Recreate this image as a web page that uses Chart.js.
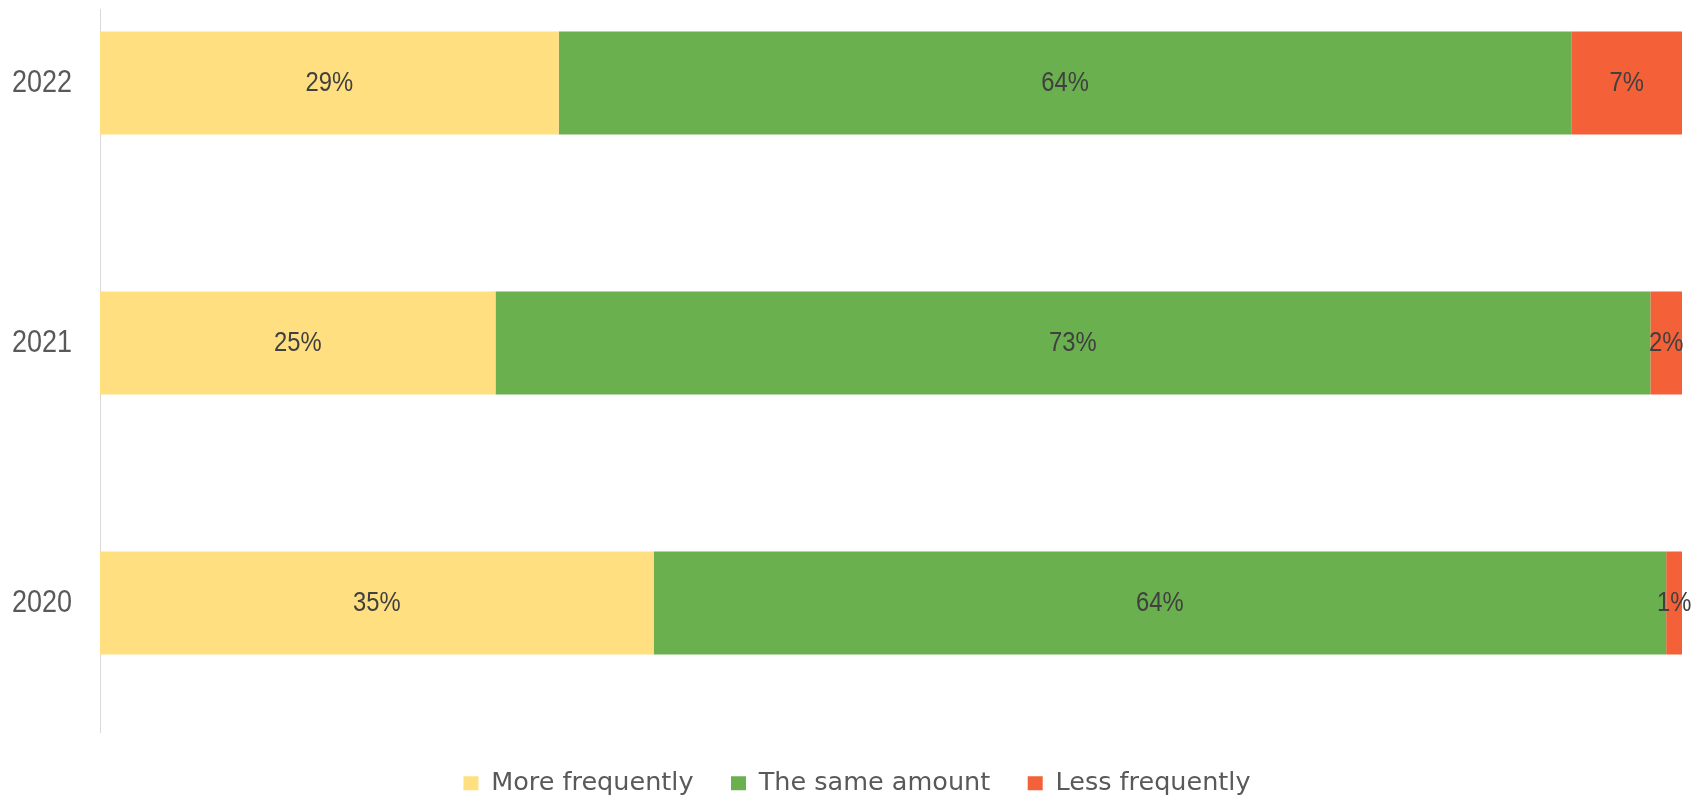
<!DOCTYPE html>
<html>
<head>
<meta charset="utf-8">
<script src="https://cdn.jsdelivr.net/npm/chart.js@4"></script>
<style>
  html, body { margin: 0; padding: 0; background: #fff; overflow: hidden; width: 1692px; height: 799px; }
  #wrap { position: absolute; left: 0; top: -47px; width: 1692px; height: 853px; }
</style>
</head>
<body>
<div id="wrap"><canvas id="c"></canvas></div>
<script>
const categories = ['2022', '2021', '2020'];
const seriesNames = ['More frequently', 'The same amount', 'Less frequently'];
const moreFrequently = [29, 25, 35];
const sameAmount = [64, 73, 64];
const lessFrequently = [7, 2, 1];
const seriesColors = ['#FFDF80', '#6AB04E', '#F46038'];

const labelFont = "'Liberation Sans', Arial, sans-serif";

function drawNarrow(ctx, text, x, y, align, size, color, sx) {
  ctx.save();
  ctx.translate(x, y);
  ctx.scale(sx, 1);
  ctx.font = size + 'px ' + labelFont;
  ctx.fillStyle = color;
  ctx.textAlign = align;
  ctx.textBaseline = 'middle';
  ctx.fillText(text, 0, 0);
  ctx.restore();
}

const textLabels = {
  id: 'textLabels',
  beforeDatasetsDraw(chart) {
    // category axis line (starts a little below the cropped top edge)
    const ctx = chart.ctx, a = chart.chartArea;
    ctx.save();
    ctx.strokeStyle = '#D9D9D9';
    ctx.lineWidth = 1;
    ctx.beginPath();
    ctx.moveTo(a.left + 0.5, a.top + 56);
    ctx.lineTo(a.left + 0.5, a.bottom);
    ctx.stroke();
    ctx.restore();
  },
  afterDatasetsDraw(chart) {
    const ctx = chart.ctx;
    chart.data.datasets.forEach((ds, di) => {
      const meta = chart.getDatasetMeta(di);
      meta.data.forEach((el, i) => {
        const p = el.getProps(['x', 'y', 'base'], true);
        drawNarrow(ctx, ds.data[i] + '%', (p.x + p.base) / 2, p.y, 'center', 28, '#404040', 0.85);
      });
    });
    const ys = chart.scales.y;
    ys.ticks.forEach((t, i) => {
      drawNarrow(ctx, ys.getLabelForValue(t.value), ys.right - 28, ys.getPixelForTick(i), 'right', 31, '#595959', 0.87);
    });
  }
};

new Chart(document.getElementById('c'), {
  type: 'bar',
  data: {
    labels: categories,
    datasets: [
      { label: seriesNames[0], data: moreFrequently, backgroundColor: seriesColors[0] },
      { label: seriesNames[1], data: sameAmount, backgroundColor: seriesColors[1] },
      { label: seriesNames[2], data: lessFrequently, backgroundColor: seriesColors[2] }
    ]
  },
  options: {
    indexAxis: 'y',
    responsive: true,
    maintainAspectRatio: false,
    animation: false,
    datasets: { bar: { barPercentage: 1, categoryPercentage: 0.396, borderWidth: 0 } },
    layout: { padding: { left: 32, right: 10, top: 0, bottom: 0 } },
    scales: {
      x: { stacked: true, min: 0, max: 100, display: false },
      y: {
        stacked: true,
        grid: { display: false, drawTicks: false },
        border: { display: false },
        ticks: { display: false },
        afterFit(scale) {
          scale.width = 68;
          scale.paddingTop = 0;
          scale.paddingBottom = 0;
        }
      }
    },
    plugins: {
      legend: {
        position: 'bottom',
        labels: {
          boxWidth: 15, boxHeight: 14, padding: 37.5,
          color: '#595959',
          font: { family: "'DejaVu Sans', sans-serif", size: 25.5 }
        }
      },
      tooltip: { enabled: false }
    }
  },
  plugins: [textLabels]
});
</script>
</body>
</html>
